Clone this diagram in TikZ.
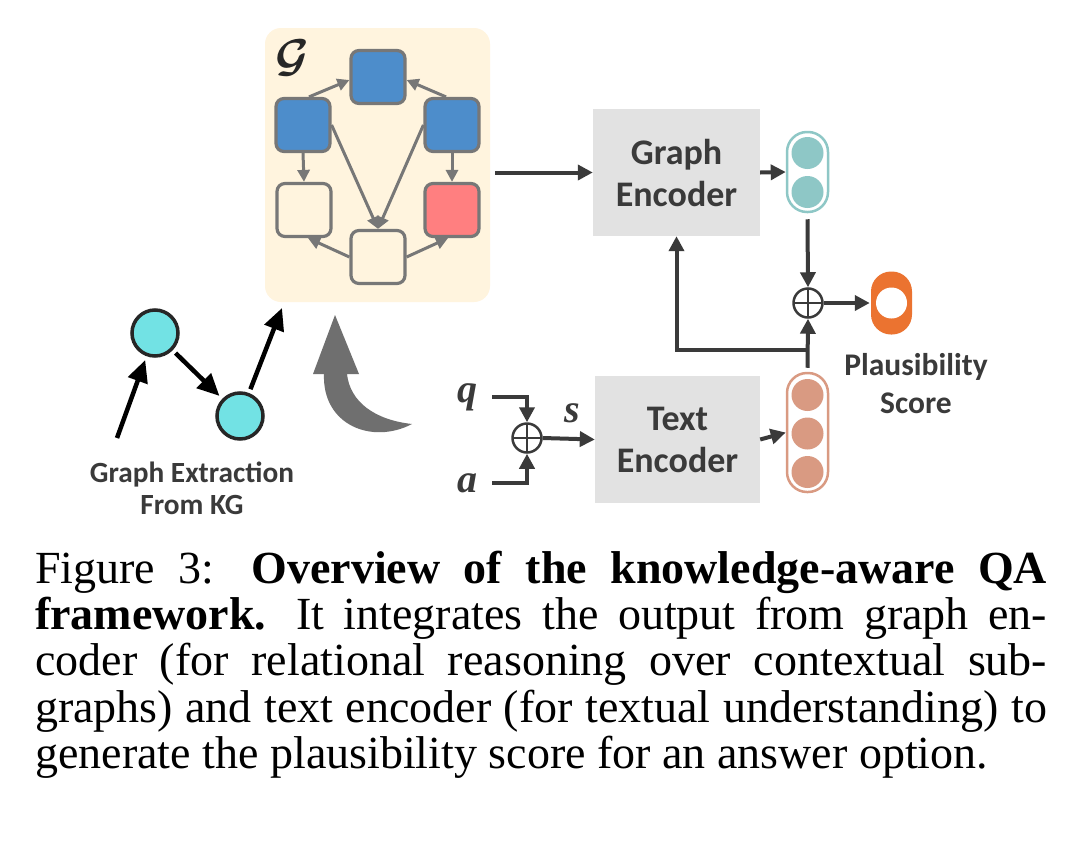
\RequirePackage{fix-cm}
\documentclass[tikz,border=0pt]{standalone}
\usepackage{amsmath,bm}
\usepackage{fontspec}
\setmainfont{Liberation Serif}
\newfontfamily\calibri{Carlito}
\usetikzlibrary{arrows.meta,calc}
\definecolor{cream}{HTML}{FFF4DE}
\definecolor{gblue}{HTML}{4D8DCB}
\definecolor{gred}{HTML}{FF7F80}
\definecolor{gline}{HTML}{777777}
\definecolor{dark}{HTML}{3A3A3A}
\definecolor{encfill}{HTML}{E2E2E2}
\definecolor{tealc}{HTML}{8EC7C6}
\definecolor{salmon}{HTML}{D99A82}
\definecolor{orng}{HTML}{EB7330}
\definecolor{cyanfill}{HTML}{72E2E4}
\definecolor{bigarrow}{HTML}{6F6F6F}
\tikzset{
  gnode/.style={draw=gline, line width=3.2pt, rounded corners=8pt, minimum width=54pt, minimum height=53pt, inner sep=0pt},
  garrow/.style={draw=gline, line width=3pt, -{Triangle[length=12pt,width=12pt]}},
  darrow/.style={draw=dark, line width=4pt, -{Triangle[length=15pt,width=15pt]}},
  karrow/.style={draw=black, line width=4.5pt, -{Triangle[length=22pt,width=20pt]}},
  encbox/.style={fill=encfill, minimum width=167pt, minimum height=127pt, inner sep=0pt, align=center, text=dark, font=\calibri\bfseries\fontsize{36}{42}\selectfont},
  lbl/.style={text=dark, align=center, inner sep=0pt},
  oplus/.style={circle, draw=dark, line width=2.5pt, minimum size=29pt, inner sep=0pt,
    path picture={\draw[dark, line width=2.5pt] (path picture bounding box.north) -- (path picture bounding box.south) (path picture bounding box.west) -- (path picture bounding box.east);}},
  pill/.style={rounded corners=20pt, line width=2.5pt, inner sep=0pt, minimum width=41pt},
  dot/.style={circle, inner sep=0pt, minimum size=32pt},
  kgnode/.style={circle, draw=black!85, line width=3.5pt, fill=cyanfill, minimum size=46pt, inner sep=0pt},
  qas/.style={text=dark, inner sep=0pt, font=\bfseries\itshape\fontsize{40}{40}\selectfont},
  capline/.style={anchor=base west, inner sep=0pt, font=\fontsize{46}{46}\selectfont}
}
\begin{document}
\begin{tikzpicture}[x=1pt,y=-1pt]
\useasboundingbox (0,0) rectangle (1084,846);
\fill[white] (0,0) rectangle (1084,846);

% graph panel
\node[fill=cream, rounded corners=16pt, minimum width=225pt, minimum height=274pt, inner sep=0pt] (gbox) at (377.5,165) {};
\node[text=black!85, inner sep=0pt] (glabel) at (292,58) {\fontsize{46}{46}\selectfont$\boldsymbol{\mathcal{G}}$};
\node[gnode, fill=gblue] (t) at (378,77) {};
\node[gnode, fill=gblue] (lu) at (303,125) {};
\node[gnode, fill=gblue] (ru) at (452,125) {};
\node[gnode, fill=cream] (ll) at (304,210) {};
\node[gnode, fill=gred] (rl) at (452,210) {};
\node[gnode, fill=cream] (b) at (378,257) {};
\draw[garrow] ($(lu.north)+(6,0)$) -- ($(t.west)+(0,3)$);
\draw[garrow] ($(ru.north)+(-6,0)$) -- ($(t.east)+(0,3)$);
\draw[garrow] (lu.south) -- (ll.north);
\draw[garrow] (ru.south) -- (rl.north);
\draw[garrow] (lu.east) -- (b.north);
\draw[garrow] (ru.west) -- (b.north);
\draw[garrow] (b.west) -- ($(ll.south)+(4,0)$);
\draw[garrow] (b.east) -- ($(rl.south)+(-4,0)$);

% encoders
\node[encbox] (ge) at (676.5,172.5) {Graph\\Encoder};
\node[encbox, minimum width=165pt] (te) at (677.5,439.5) {Text\\Encoder};
\coordinate (gstart) at (495,172.5);
\draw[darrow] (gstart) -- (ge.west);

% teal pill
\node[pill, draw=tealc, fill=white, minimum height=80pt] (tp) at (807.5,172) {};
\node[dot, fill=tealc] (tp1) at (807.5,153) {};
\node[dot, fill=tealc] (tp2) at (807.5,192) {};
\draw[darrow] (ge.east) -- (tp.west);

% salmon pill
\node[pill, draw=salmon, fill=white, minimum height=119pt] (sp) at (807.5,432.5) {};
\node[dot, fill=salmon] (sp1) at (807.5,395) {};
\node[dot, fill=salmon] (sp2) at (807.5,433.5) {};
\node[dot, fill=salmon] (sp3) at (807.5,472) {};
\draw[darrow] (te.east) -- (sp.west);

% combination
\node[oplus] (p2) at (808,303) {};
\draw[darrow] ($(tp.south)+(0,6)$) -- (p2.north);
\draw[darrow] ($(sp.north)+(0,-4)$) -- (p2.south);
\coordinate (br) at (808,350);
\draw[darrow] (br) -| (ge.south);

% output
\node[pill, fill=orng, minimum height=63pt] (op) at (891.5,303) {};
\node[circle, fill=white, minimum size=31pt, inner sep=0pt] (opin) at (891.5,303) {};
\draw[darrow] (p2.east) -- (op.west);
\node[lbl, font=\calibri\bfseries\fontsize{31.5}{38}\selectfont] (plaus) at (916,384) {Plausibility\\Score};

% q a s
\node[oplus] (p1) at (527,438) {};
\node[qas, anchor=base] (q) at (467,402) {q};
\node[qas, anchor=base] (a) at (467,492) {a};
\node[qas, anchor=base] (s) at (572,422) {s};
\coordinate (qend) at (492,397);
\coordinate (aend) at (492,483);
\draw[darrow] (qend) -| (p1.north);
\draw[darrow] (aend) -| (p1.south);
\draw[darrow] (p1.east) -- (te.west);

% graph extraction
\node[kgnode] (k1) at (155,333) {};
\node[kgnode] (k2) at (240,416) {};
\coordinate (k0) at (117,438);
\coordinate (k3) at (282,308);
\draw[karrow, shorten >=4pt] (k0) -- (k1);
\draw[karrow, shorten <=4pt, shorten >=4pt] (k1) -- (k2);
\draw[karrow, shorten <=4pt] (k2) -- (k3);
\node[lbl, font=\calibri\bfseries\fontsize{29.3}{32}\selectfont] (gext) at (192,488) {Graph Extraction\\From KG};

% big curved arrow
\fill[bigarrow] (335,315) -- (359,374) -- (347,374)
  .. controls (350,402) and (375,420) .. (412,424)
  .. controls (372,445) and (322,425) .. (324,374)
  -- (313,374) -- cycle;

% caption
\node[capline] (c1) at (35,583) {\makebox[1012pt][s]{Figure 3:\hspace{0.8em}\textbf{Overview of the knowledge-aware QA}}};
\node[capline] (c2) at (35,629) {\makebox[1012pt][s]{\textbf{framework.}\hspace{0.65em}It integrates the output from graph en-}};
\node[capline] (c3) at (35,675) {\makebox[1012pt][s]{coder (for relational reasoning over contextual sub-}};
\node[capline] (c4) at (35,722) {\makebox[1012pt][s]{graphs) and text encoder (for textual understanding) to}};
\node[capline] (c5) at (35,768) {generate the plausibility score for an answer option.};
\end{tikzpicture}
\end{document}
